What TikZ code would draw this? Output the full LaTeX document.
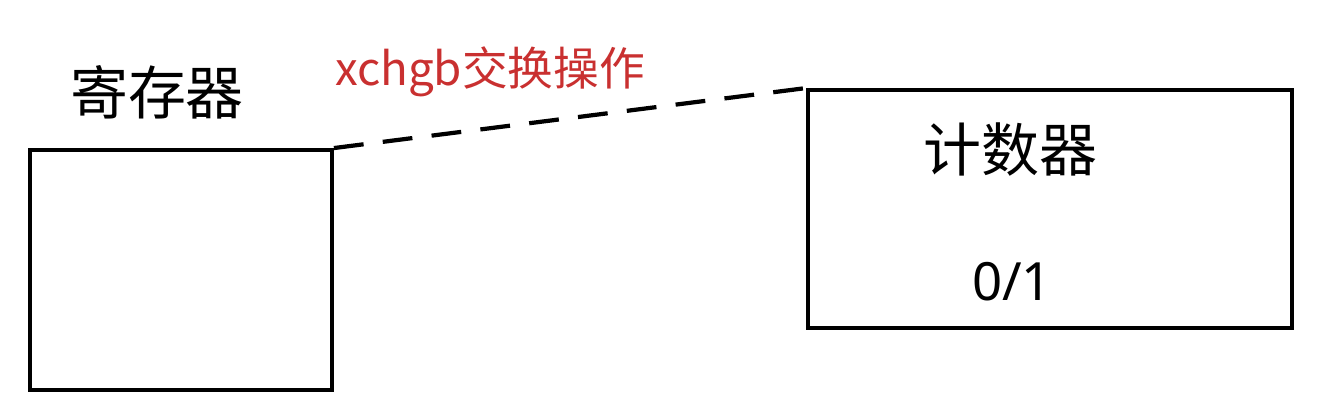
\documentclass[tikz,border=0pt]{standalone}
\usepackage{fontspec}
\setmainfont{Noto Sans}
\newfontfamily\cjk{Noto Sans CJK SC}
\usepackage{tikz}
\usetikzlibrary{positioning,calc}
\usepackage{xcolor}
\definecolor{xchgred}{RGB}{201,48,48}
\tikzset{
    regbox/.style={rectangle, draw=black, line width=2.2pt, minimum width=6.04cm, minimum height=4.8cm},
    cntbox/.style={rectangle, draw=black, line width=2.2pt, minimum width=9.68cm, minimum height=4.76cm},
    boxlabel/.style={font=\cjk\fontsize{33}{38}\selectfont},
    oplabel/.style={text=xchgred, font=\cjk\fontsize{26}{30}\selectfont},
    bitlabel/.style={font=\fontsize{30}{34}\selectfont},
    xchgline/.style={line width=2.4pt, dash pattern=on 17pt off 11pt},
}
\begin{document}
\begin{tikzpicture}
    \useasboundingbox (0,0) rectangle (26.4,8.4);
    % register and counter
    \node[regbox] (reg) at (3.62, 3.0) {};
    \node[cntbox] (cnt) at (21.0, 4.22) {};
    \node[boxlabel] (reglabel) at (3.14, 6.56) {寄存器};
    \node[boxlabel] (cntlabel) at (20.2, 5.4) {计数器};
    \node[bitlabel] (bit) at (20.24, 2.76) {0/1};
    % exchange
    \node[oplabel] (op) at (9.8, 6.96) {xchgb交换操作};
    \draw[xchgline] (reg.north east) -- (cnt.north west);
\end{tikzpicture}
\end{document}
